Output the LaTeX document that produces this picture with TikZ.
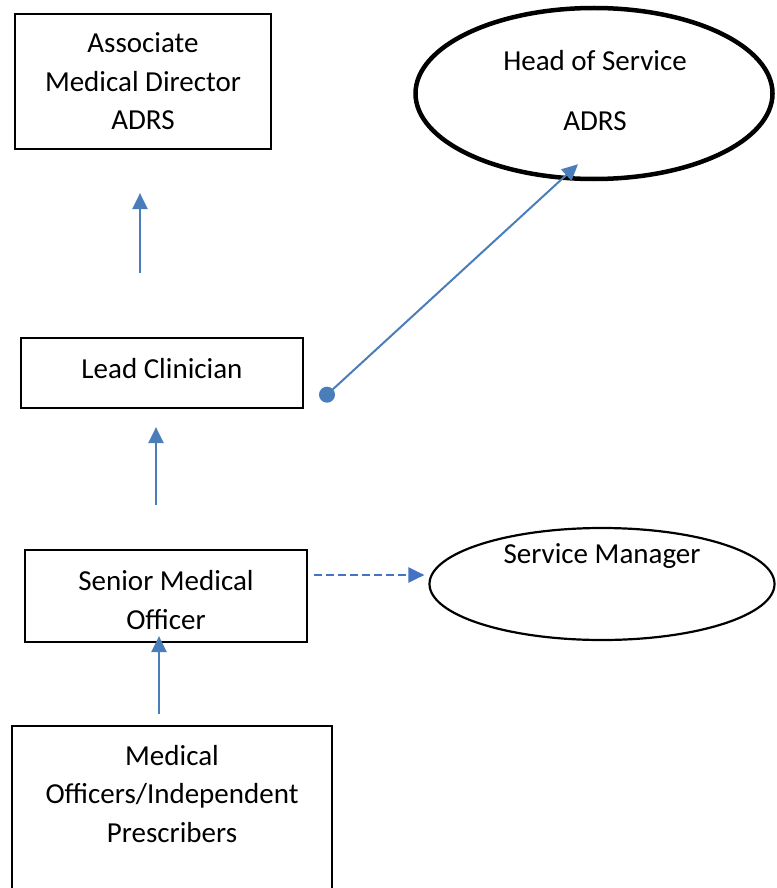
\documentclass[tikz,border=0pt]{standalone}
\usepackage{fontspec}
\setmainfont{Carlito}
\usetikzlibrary{arrows.meta,shapes.geometric,calc}
\definecolor{arrblue}{HTML}{4A7EBB}
\definecolor{dashblue}{HTML}{4472C4}
\begin{document}
\begin{tikzpicture}[x=1pt,y=-1pt,
  txt/.style={font=\fontsize{29}{38.5}\selectfont,align=center,inner sep=0pt},
  box/.style={draw=black,line width=2.2pt,rectangle,inner sep=0pt,txt},
  oval/.style={draw=black,ellipse,inner sep=0pt,txt},
  arr/.style={draw=arrblue,line width=2.4pt,-{Triangle[length=16pt,width=15pt]}},
  dotarr/.style={draw=arrblue,line width=2pt,{Circle[length=16pt]}-{Triangle[length=16pt,width=15pt]}},
  dasharr/.style={draw=dashblue,line width=2.2pt,dash pattern=on 8pt off 4pt,-{Triangle[length=16pt,width=15pt]}}]
\useasboundingbox (0,0) rectangle (776,888);
\clip (0,0) rectangle (776,888);
\fill[white] (0,0) rectangle (776,888);

\node[box,minimum width=256pt,minimum height=135pt] (amd) at (143,81.5)
  {Associate\\Medical Director\\ADRS};
\node[oval,line width=4.5pt,minimum width=357pt,minimum height=171pt] (head) at (594,93.5) {};
\node[txt] (headt) at (595,90.5) {Head of Service\\[21.5pt]ADRS};
\node[box,minimum width=282pt,minimum height=70pt] (lc) at (162,373) {};
\node[txt] (lct) at (162,369) {Lead Clinician};
\node[box,minimum width=282pt,minimum height=92pt] (smo) at (166,596) {};
\node[txt] (smot) at (166,600) {Senior Medical\\Officer};
\node[oval,line width=2.2pt,minimum width=345pt,minimum height=112pt] (sm) at (602,584) {};
\node[txt] (smt) at (602,556) {Service Manager};
\node[box,minimum width=320pt,minimum height=174pt] (mo) at (172,813) {};
\node[txt] (mot) at (172,794) {Medical\\Officers/Independent\\Prescribers};

\draw[arr] ($(lc.north)+(-22,-64)$) -- ($(amd.south)+(-3,43)$);
\draw[dotarr] ($(lc.south east)+(17,-9)$) -- ($(head.south)+(-16,-17)$);
\draw[arr] ($(smo.north)+(-10,-44)$) -- ($(lc.south)+(-6,18)$);
\draw[arr] ($(mo.north)+(-13,-11)$) -- ($(smo.south)+(-7,-7)$);
\draw[dasharr] ($(smo.east)+(6,-21)$) -- ($(sm.west)+(-4,-9)$);
\end{tikzpicture}
\end{document}
